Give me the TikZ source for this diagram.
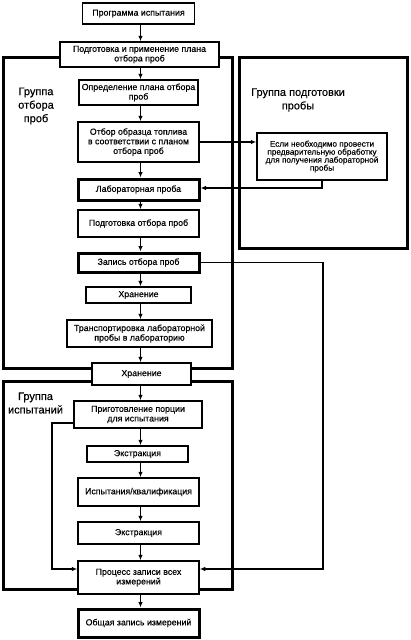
\documentclass[tikz,border=0pt]{standalone}
\usepackage{fontspec}
\setmainfont{Liberation Sans}[FakeBold=0.35]
\usetikzlibrary{arrows.meta}
\begin{document}
\begin{tikzpicture}[x=1pt,y=-1pt,
 box/.style={draw,fill=white,line width=1.5pt,align=center,inner sep=1pt,font=\fontsize{8.8}{9.6}\selectfont},
 tbox/.style={box,line width=3pt},
 grp/.style={draw,line width=3pt},
 glabel/.style={font=\fontsize{11}{13.5}\selectfont,align=center},
 arr/.style={line width=1.3pt,-{Latex[length=5.5pt,width=4.5pt]}},
 ln/.style={line width=1.3pt}]
\useasboundingbox (0,0) rectangle (411,640);
% groups
\draw[grp] (3,57) rectangle (232,368);
\draw[grp] (239,57) rectangle (407,248);
\draw[grp] (3,381) rectangle (232,589);
\node[glabel] (g1) at (36,106) {Группа\\отбора\\проб};
\node[glabel] (g2) at (298,100) {Группа подготовки\\пробы};
\node[glabel] (g3) at (35.5,403) {Группа\\испытаний};
% boxes
\node[box,minimum width=112,minimum height=21] (prog) at (138.5,13.5) {Программа испытания};
\node[box,minimum width=159,minimum height=25] (podg) at (139.5,54.5) {Подготовка и применение плана\\отбора проб};
\node[box,minimum width=119,minimum height=25] (opr) at (138.5,92.5) {Определение плана отбора\\проб};
\node[box,minimum width=121,minimum height=40] (otbor) at (138.5,142) {Отбор образца топлива\\в соответствии с планом\\отбора проб};
\node[tbox,minimum width=121,minimum height=21] (lab) at (138.5,189.5) {Лабораторная проба};
\node[box,minimum width=130,minimum height=47,font=\fontsize{8.2}{8}\selectfont] (prep) at (322,156.5) {Если необходимо  провести\\предварительную обработку\\для получения лабораторной\\пробы};
\node[box,minimum width=121,minimum height=27] (podgotb) at (138.5,223.5) {Подготовка отбора проб};
\node[tbox,minimum width=121,minimum height=19] (zap) at (138.5,262.5) {Запись отбора проб};
\node[box,minimum width=105,minimum height=16] (hran1) at (138.5,295) {Хранение};
\node[box,minimum width=145,minimum height=27] (trans) at (139.5,333.5) {Транспортировка лабораторной\\пробы в лабораторию};
\node[box,minimum width=99,minimum height=22] (hran2) at (141.5,374) {Хранение};
\node[box,minimum width=128,minimum height=27] (prig) at (138,414.5) {Приготовление порции\\для испытания};
\node[box,minimum width=101,minimum height=16] (ekst1) at (137.5,454) {Экстракция};
\node[box,minimum width=121,minimum height=28] (isp) at (138.5,492) {Испытания/квалификация};
\node[box,minimum width=121,minimum height=22] (ekst2) at (138.5,533) {Экстракция};
\node[box,minimum width=121,minimum height=33] (proc) at (138.5,577.5) {Процесс записи всех\\измерений};
\node[tbox,minimum width=121,minimum height=28] (obsh) at (138.5,623) {Общая запись измерений};
% vertical arrows
\foreach \a/\b in {prog/podg,podg/opr,opr/otbor,otbor/lab,lab/podgotb,podgotb/zap,zap/hran1,hran1/trans,trans/hran2,hran2/prig,prig/ekst1,ekst1/isp,isp/ekst2,ekst2/proc,proc/obsh}
  \draw[arr] (\a.south -| 140.5,0) -- (\b.north -| 140.5,0);
% side connectors
\draw[arr] (otbor.east) -- (otbor.east -| prep.west);
\draw[arr] (prep.south) |- ([yshift=1.5pt]lab.east);
\coordinate (pr) at ([yshift=8.5pt]proc.east);
\coordinate (pl) at ([yshift=8.5pt]proc.west);
\draw[arr] (zap.east) -| (323,569) -- (pr);
\draw[arr] ([yshift=-8.5pt]prig.west) -| (52,569) -- (pl);
\end{tikzpicture}
\end{document}
